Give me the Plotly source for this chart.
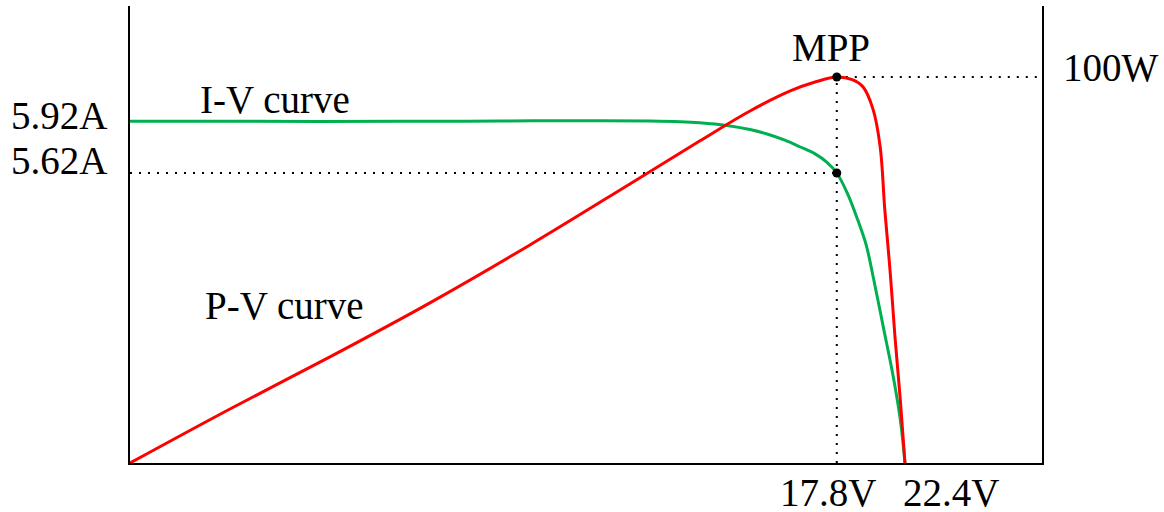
import plotly.graph_objects as go

# Schematic solar-panel characteristic (not to scale).
# Voltage positions are relative to the open-circuit point (V_oc -> 1.0),
# current relative to the short-circuit current, power relative to P_max.
V_OC_LABEL = "22.4V"
V_MP_LABEL = "17.8V"
I_SC_LABEL = "5.92A"
I_MP_LABEL = "5.62A"
P_MAX_LABEL = "100W"

v_mp = 0.912      # relative voltage at the maximum power point
i_mp = 0.848      # relative current at the maximum power point
i_sc = 1.0
p_max = 1.0
v_oc = 1.0

# I-V curve samples
iv_v = [0.000, 0.155, 0.348, 0.477, 0.606, 0.671, 0.710, 0.735, 0.770, 0.800,
        0.822, 0.845, 0.865, 0.884, 0.899, 0.912, 0.926, 0.939, 0.950, 0.959,
        0.972, 0.985, 0.994, 1.000]
iv_i = [0.999, 0.999, 0.999, 1.000, 1.001, 1.000, 0.998, 0.995, 0.987, 0.975,
        0.962, 0.944, 0.924, 0.904, 0.880, 0.848, 0.787, 0.711, 0.637, 0.544,
        0.398, 0.251, 0.126, 0.000]

# P-V curve samples
pv_v = [0.000, 0.129, 0.258, 0.387, 0.516, 0.645, 0.735, 0.800, 0.852, 0.884,
        0.912, 0.932, 0.946, 0.959, 0.968, 0.974, 0.981, 0.987, 0.994, 1.000]
pv_p = [0.000, 0.140, 0.275, 0.415, 0.565, 0.723, 0.834, 0.912, 0.964, 0.987,
        1.000, 0.993, 0.974, 0.915, 0.819, 0.655, 0.492, 0.329, 0.163, 0.000]

X_MAX = 1.1768
I_MAX = 1.3363
P_AX_MAX = 1.184

GREEN = "#00b050"
RED = "#ff0000"
FONT = "Liberation Serif, Times New Roman, serif"
DOT = "2px,7px"

fig = go.Figure()

# dotted guide at the MPP current
fig.add_trace(go.Scatter(x=[0, v_mp], y=[i_mp, i_mp], mode="lines",
                         line=dict(color="black", width=2, dash=DOT),
                         hoverinfo="skip", yaxis="y"))
# I-V curve
fig.add_trace(go.Scatter(x=iv_v, y=iv_i, mode="lines",
                         line=dict(color=GREEN, width=3, shape="spline", smoothing=1.0),
                         yaxis="y"))
# MPP marker on the I-V curve
fig.add_trace(go.Scatter(x=[v_mp], y=[i_mp], mode="markers",
                         marker=dict(color="black", size=9), yaxis="y"))

# dotted guides at the MPP voltage and maximum power
fig.add_trace(go.Scatter(x=[v_mp, v_mp], y=[0, p_max], mode="lines",
                         line=dict(color="black", width=2, dash=DOT),
                         hoverinfo="skip", yaxis="y2"))
fig.add_trace(go.Scatter(x=[v_mp, X_MAX], y=[p_max, p_max], mode="lines",
                         line=dict(color="black", width=2, dash=DOT),
                         hoverinfo="skip", yaxis="y2"))
# P-V curve
fig.add_trace(go.Scatter(x=pv_v, y=pv_p, mode="lines",
                         line=dict(color=RED, width=3, shape="spline", smoothing=1.0),
                         yaxis="y2"))
# MPP marker on the P-V curve
fig.add_trace(go.Scatter(x=[v_mp], y=[p_max], mode="markers",
                         marker=dict(color="black", size=9), yaxis="y2"))

tf = dict(family=FONT, size=39, color="black")
annotations = [
    dict(text=I_SC_LABEL, xref="paper", x=0, xanchor="right", xshift=-21,
         yref="y", y=i_sc, yanchor="middle", yshift=6),
    dict(text=I_MP_LABEL, xref="paper", x=0, xanchor="right", xshift=-21,
         yref="y", y=i_mp, yanchor="middle", yshift=12),
    dict(text=P_MAX_LABEL, xref="paper", x=1, xanchor="left", xshift=19,
         yref="y2", y=p_max, yanchor="middle", yshift=10),
    dict(text="MPP", xref="x", x=v_mp, xanchor="center", xshift=-6,
         yref="y2", y=p_max, yanchor="bottom", yshift=6),
    dict(text=V_MP_LABEL, xref="x", x=v_mp, xanchor="center", xshift=-9,
         yref="paper", y=0, yanchor="top", yshift=-6),
    dict(text=V_OC_LABEL, xref="x", x=v_oc, xanchor="left", xshift=-4,
         yref="paper", y=0, yanchor="top", yshift=-6),
    dict(text="I-V curve", xref="x", x=0.187, xanchor="center",
         yref="y", y=1.063, yanchor="middle"),
    dict(text="P-V curve", xref="x", x=0.199, xanchor="center",
         yref="y", y=0.462, yanchor="middle"),
]
for a in annotations:
    a.update(showarrow=False, font=tf)

fig.update_layout(
    width=1164, height=512,
    margin=dict(l=130, r=122, t=6, b=49),
    paper_bgcolor="white", plot_bgcolor="white",
    showlegend=False,
    annotations=annotations,
    xaxis=dict(range=[0, X_MAX], showgrid=False, zeroline=False,
               showticklabels=False, ticks="", showline=True,
               linecolor="black", linewidth=2),
    yaxis=dict(range=[0, I_MAX], showgrid=False, zeroline=False,
               showticklabels=False, ticks="", showline=True,
               linecolor="black", linewidth=2),
    yaxis2=dict(range=[0, P_AX_MAX], overlaying="y", side="right",
                showgrid=False, zeroline=False, showticklabels=False,
                ticks="", showline=True, linecolor="black", linewidth=2),
)

fig.write_html("out.html")
